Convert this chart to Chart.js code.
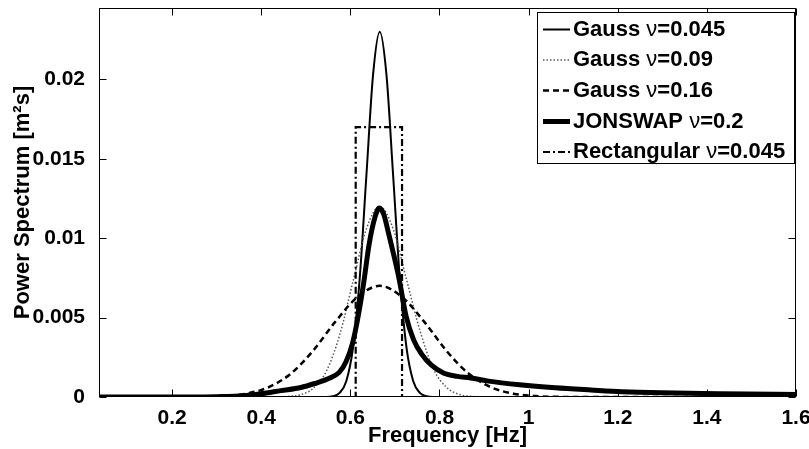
<!DOCTYPE html>
<html>
<head>
<meta charset="utf-8">
<script src="https://cdn.jsdelivr.net/npm/chart.js@4.4.0/dist/chart.umd.min.js"></script>
<style>
  html, body { margin: 0; padding: 0; background: #fff; }
  canvas { display: block; }
</style>
</head>
<body>
<canvas id="spec" width="809" height="449"></canvas>
<script>
// ─── Fonte / estilo base ─────────────────────────────────
const FONT = "'Liberation Sans', Arial, Helvetica, sans-serif";
const FSIZE = 22;

// ─── Eixos ───────────────────────────────────────────────
const xTicks = [0.2, 0.4, 0.6, 0.8, 1, 1.2, 1.4, 1.6];
const yTicks = [0, 0.005, 0.01, 0.015, 0.02];
const X_MIN = 0.036, X_MAX = 1.6, Y_MIN = 0, Y_MAX = 0.0245;

// ─── Legenda ─────────────────────────────────────────────
const seriesNames = ['Gauss', 'Gauss', 'Gauss', 'JONSWAP', 'Rectangular'];
const seriesNu    = ['0.045', '0.09', '0.16', '0.2', '0.045'];

// ─── Dados ───────────────────────────────────────────────
const freqG045 = [0.036, 0.546, 0.561, 0.576, 0.591, 0.606, 0.621, 0.636, 0.651, 0.666,
                  0.681, 0.696, 0.711, 0.726, 0.741, 0.756, 0.771, 0.786, 1.6];
const specG045 = [0, 0, 0.00005, 0.00026, 0.00101, 0.00311, 0.00747, 0.01395, 0.0203, 0.0230,
                  0.0203, 0.01395, 0.00747, 0.00311, 0.00101, 0.00026, 0.00005, 0, 0];

const freqG09 = [0.036, 0.426, 0.456, 0.486, 0.516, 0.546, 0.576, 0.606, 0.636, 0.666,
                 0.696, 0.726, 0.756, 0.786, 0.816, 0.846, 0.876, 0.906, 1.6];
const specG09 = [0, 0, 0.00003, 0.00013, 0.00053, 0.00162, 0.0039, 0.00728, 0.01059, 0.0120,
                 0.01059, 0.0074, 0.0042, 0.0018, 0.0006, 0.00015, 0.00003, 0, 0];

const freqG16 = [0.036, 0.216, 0.266, 0.316, 0.366, 0.416, 0.466, 0.516, 0.566, 0.616, 0.666,
                 0.716, 0.766, 0.816, 0.866, 0.916, 0.966, 1.016, 1.066, 1.116, 1.6];
const specG16 = [0, 0, 0.00001, 0.00006, 0.00021, 0.00061, 0.00146, 0.0029, 0.00473, 0.0063, 0.0070,
                 0.0063, 0.00473, 0.0029, 0.00146, 0.00061, 0.00021, 0.00006, 0.00001, 0, 0];

const freqJon = [0.036, 0.25, 0.30, 0.36, 0.40, 0.444, 0.489, 0.52, 0.55, 0.575, 0.59, 0.605, 0.617,
                 0.63, 0.642, 0.655, 0.665, 0.675, 0.685, 0.697, 0.709, 0.725, 0.742, 0.76,
                 0.782, 0.81, 0.84, 0.87, 0.91, 0.98, 1.06, 1.14, 1.21, 1.30, 1.43, 1.6];
const specJon = [0, 0, 0.00002, 0.00008, 0.0002, 0.0004, 0.0006, 0.00085, 0.00115, 0.00155, 0.0022, 0.0034, 0.0050,
                 0.0072, 0.0096, 0.0113, 0.0119, 0.0115, 0.0104, 0.0090, 0.0075, 0.0051, 0.0036, 0.0027,
                 0.0020, 0.0015, 0.0013, 0.0012, 0.0010, 0.00077, 0.00058, 0.00044, 0.00033, 0.00026, 0.00021, 0.00015];

const freqRect = [0.036, 0.612, 0.612, 0.716, 0.716, 1.6];
const specRect = [0, 0, 0.017, 0.017, 0, 0];

const pts = (fs, vs) => fs.map((f, i) => ({ x: f, y: vs[i] }));

const datasets = [
  { data: pts(freqG045, specG045), borderColor: '#000', borderWidth: 2, borderDash: [] },
  { data: pts(freqG09, specG09),   borderColor: '#555', borderWidth: 1.5, borderDash: [1.5, 2] },
  { data: pts(freqG16, specG16),   borderColor: '#000', borderWidth: 2.5, borderDash: [6, 4] },
  { data: pts(freqJon, specJon),   borderColor: '#000', borderWidth: 5, borderDash: [] },
  { data: pts(freqRect, specRect), borderColor: '#000', borderWidth: 2.2, borderDash: [7, 3, 2, 3] },
].map((d, i) => ({
  ...d,
  label: seriesNames[i] + ' ν=' + seriesNu[i],
  fill: false,
  pointRadius: 0,
  order: 5 - i,
  cubicInterpolationMode: i === 4 ? 'default' : 'monotone',
  tension: 0,
}));

// ─── Moldura + ticks internos (estilo MATLAB) ────────────
const framePlugin = {
  id: 'frame',
  afterDatasetsDraw(chart) {
    const { ctx, scales: { x, y } } = chart;
    const L = Math.round(x.getPixelForValue(X_MIN)) + 0.5, R = Math.round(x.getPixelForValue(X_MAX)) - 0.5;
    const T = Math.round(y.getPixelForValue(Y_MAX)) + 0.5, B = Math.round(y.getPixelForValue(Y_MIN)) - 0.5;
    const TL = 7;
    ctx.save();
    ctx.strokeStyle = '#000';
    ctx.lineWidth = 1;
    ctx.setLineDash([]);
    ctx.strokeRect(L, T, R - L, B - T);
    ctx.beginPath();
    xTicks.forEach(v => {
      const px = Math.round(x.getPixelForValue(v)) + 0.5;
      ctx.moveTo(px, B); ctx.lineTo(px, B - TL);
      ctx.moveTo(px, T); ctx.lineTo(px, T + TL);
    });
    yTicks.forEach(v => {
      const py = Math.round(y.getPixelForValue(v)) + 0.5;
      ctx.moveTo(L, py); ctx.lineTo(L + TL, py);
      ctx.moveTo(R, py); ctx.lineTo(R - TL, py);
    });
    ctx.stroke();
    ctx.restore();
  },
};

// ─── Legenda em caixa (canto superior direito) ───────────
const boxLegend = {
  id: 'boxLegend',
  afterDraw(chart) {
    const { ctx } = chart;
    const bx = 537.5, by = 12.5, bw = 257, bh = 151;
    const rowY = [29.5, 60, 90.5, 121.5, 152];
    ctx.save();
    ctx.fillStyle = '#fff';
    ctx.fillRect(bx, by, bw, bh);
    ctx.strokeStyle = '#000';
    ctx.lineWidth = 1;
    ctx.strokeRect(bx, by, bw, bh);
    chart.data.datasets.forEach((ds, i) => {
      const y = rowY[i];
      ctx.beginPath();
      ctx.strokeStyle = ds.borderColor;
      ctx.lineWidth = ds.borderWidth;
      ctx.setLineDash(ds.borderDash);
      ctx.moveTo(543, y); ctx.lineTo(570, y);
      ctx.stroke();
      ctx.setLineDash([]);
      ctx.fillStyle = '#000';
      ctx.textBaseline = 'middle';
      let tx = 573;
      const parts = [
        ['bold', seriesNames[i] + ' '],
        ['normal', 'ν'],
        ['bold', '=' + seriesNu[i]],
      ];
      parts.forEach(([w, t]) => {
        ctx.font = `${w} ${FSIZE}px ${FONT}`;
        ctx.fillText(t, tx, y);
        tx += ctx.measureText(t).width;
      });
    });
    ctx.restore();
  },
};

const tickFont  = { family: FONT, size: 21, weight: 'bold' };
const titleFont = { family: FONT, size: FSIZE, weight: 'bold' };

new Chart(document.getElementById('spec'), {
  type: 'line',
  data: { datasets },
  plugins: [framePlugin, boxLegend],
  options: {
    responsive: false,
    devicePixelRatio: 1,
    animation: false,
    events: [],
    layout: { padding: { top: 8, right: 13, left: 0, bottom: 0 } },
    scales: {
      x: {
        type: 'linear', min: X_MIN, max: X_MAX,
        grid: { display: false }, border: { display: false },
        afterBuildTicks: s => { s.ticks = xTicks.map(v => ({ value: v })); },
        afterFit: s => { s.height = 52; s.paddingLeft = 0; s.paddingRight = 0; },
        ticks: { font: tickFont, color: '#000', padding: 1, maxRotation: 0, autoSkip: false,
                 callback: v => String(v) },
        title: { display: true, text: 'Frequency [Hz]', color: '#000', font: titleFont,
                 padding: { top: 0, bottom: 0 } },
      },
      y: {
        type: 'linear', min: Y_MIN, max: Y_MAX,
        grid: { display: false }, border: { display: false },
        afterBuildTicks: s => { s.ticks = yTicks.map(v => ({ value: v })); },
        afterFit: s => { s.width = 99; s.paddingTop = 0; s.paddingBottom = 0; },
        ticks: { font: tickFont, color: '#000', padding: 6, autoSkip: false,
                 callback: v => String(v) },
        title: { display: true, text: 'Power Spectrum [m²s]', color: '#000', font: titleFont,
                 padding: { top: 10, bottom: 0 } },
      },
    },
    plugins: { legend: { display: false }, tooltip: { enabled: false } },
  },
});
</script>
</body>
</html>
